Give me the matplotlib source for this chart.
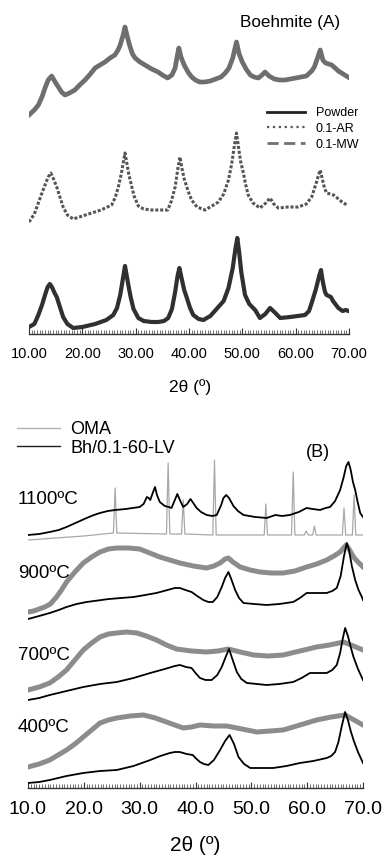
import numpy as np
import matplotlib
matplotlib.use('Agg')
import matplotlib.pyplot as plt
from matplotlib.lines import Line2D

plt.rcParams['font.family'] = ['Liberation Sans', 'DejaVu Sans']

W, H = 383, 855

def fx(x):
	return x / W

def fy(y):
	return 1 - y / H

# ---------------- (A) boehmite, stacked patterns (a.u.) ----------------
tt_mw = [10.0, 11.0, 11.75, 12.5, 13.0, 13.6, 14.25, 14.9, 15.5, 16.1, 16.75, 17.6, 18.6, 19.5,
	20.5, 21.5, 22.4, 23.3, 24.25, 25.2, 26.1, 26.7, 27.1, 27.6, 28.0, 28.4, 28.9, 29.4,
	29.9, 30.8, 31.75, 33.0, 34.2, 35.0, 36.0, 36.8, 37.4, 37.8, 38.1, 38.5, 39.1, 39.8,
	40.5, 41.2, 42.0, 43.0, 44.0, 45.0, 46.0, 46.8, 47.5, 48.2, 48.9, 49.4, 50.0, 50.7,
	51.5, 52.2, 53.0, 53.7, 54.25, 55.0, 56.0, 57.0, 58.0, 59.0, 60.0, 61.0, 62.0, 63.0,
	63.5, 64.1, 64.6, 65.1, 65.6, 66.2, 66.75, 67.4, 68.0, 68.9, 69.8]
i_mw = [219, 224, 229, 238, 246, 254, 258, 252, 247, 242, 239, 241, 244, 249,
	254, 260, 266, 269, 272, 276, 279, 284, 289, 298, 307, 298, 288, 280,
	276, 272, 269, 265, 262, 259, 256, 259, 266, 278, 286, 277, 269, 262,
	257, 254, 252, 252, 253, 255, 257, 261, 266, 276, 292, 280, 272, 265,
	259, 257, 256, 259, 262, 258, 255, 254, 254, 255, 256, 257, 258, 263,
	267, 276, 284, 274, 271, 270, 269, 266, 263, 260, 257]

tt_ar = [10.0, 11.0, 11.75, 12.5, 13.0, 13.6, 14.1, 14.6, 15.2, 15.8, 16.4, 17.2, 18.3, 20.0,
	21.75, 23.5, 25.5, 26.2, 26.75, 27.3, 27.7, 28.0, 28.3, 28.7, 29.1, 29.7, 30.5, 31.5,
	33.0, 35.0, 36.0, 36.7, 37.4, 37.9, 38.3, 38.7, 39.1, 39.6, 40.1, 40.5, 41.5, 43.0,
	44.3, 45.5, 46.5, 47.4, 48.0, 48.5, 48.9, 49.3, 49.7, 50.2, 50.6, 51.1, 52.0, 53.3,
	54.4, 55.2, 55.9, 56.75, 58.5, 60.5, 62.0, 63.0, 63.8, 64.3, 64.6, 65.0, 65.4, 65.8,
	66.5, 67.1, 67.8, 68.7, 69.6]
i_ar = [112, 120, 131, 142, 149, 157, 161, 155, 147, 137, 127, 119, 115, 118,
	121, 124, 129, 137, 147, 160, 172, 181, 172, 160, 151, 138, 128, 125,
	124, 124, 124, 133, 147, 165, 177, 165, 155, 147, 139, 134, 127, 124,
	128, 132, 140, 154, 170, 188, 201, 186, 172, 161, 150, 139, 131, 126,
	131, 136, 130, 126, 127, 127, 130, 137, 150, 159, 164, 155, 146, 141,
	140, 139, 136, 132, 129]

tt_pw = [10.0, 11.0, 11.75, 12.5, 13.0, 13.5, 13.9, 14.3, 14.8, 15.2, 15.8, 16.4, 17.2, 18.3,
	20.0, 22.4, 24.5, 25.8, 26.5, 27.1, 27.6, 28.0, 28.4, 28.8, 29.1, 29.6, 30.5, 31.5,
	33.0, 34.25, 35.3, 36.1, 36.8, 37.4, 37.85, 38.2, 38.6, 39.1, 39.6, 40.2, 40.8, 41.8,
	42.7, 44.0, 45.0, 45.5, 46.5, 47.4, 48.2, 48.7, 49.06, 49.4, 49.8, 50.5, 51.3, 52.4,
	53.3, 54.3, 55.2, 56.0, 57.1, 59.0, 61.75, 62.5, 63.0, 63.8, 64.4, 64.75, 65.1, 65.5,
	65.8, 66.2, 66.6, 67.0, 68.0, 68.8, 69.4, 69.9]
i_pw = [7, 10, 19, 30, 39, 47, 50, 47, 41, 37, 27, 17, 10, 6,
	7, 10, 14, 19, 26, 39, 55, 68, 56, 44, 36, 25, 16, 13,
	12, 12, 13, 16, 25, 42, 58, 66, 56, 44, 36, 26, 19, 15,
	14, 18, 24, 27, 33, 46, 66, 85, 96, 82, 62, 39, 30, 24,
	16, 20, 26, 22, 16, 17, 19, 23, 31, 45, 58, 64, 52, 42,
	39, 38, 37, 33, 26, 23, 24, 23]

# ---------------- (B) calcined samples (a.u.) ----------------
tt_oma1100 = [10.05, 15.0, 20.0, 25.3, 25.6, 25.9, 34.8, 35.1, 35.4, 37.5, 37.8, 38.1, 43.1, 43.4,
	43.7, 52.3, 52.6, 52.9, 57.2, 57.5, 57.8, 59.5, 59.8, 60.2, 61.0, 61.3, 61.6, 66.3,
	66.6, 66.9, 68.1, 68.4, 68.7, 70.0]
i_oma1100 = [248, 250, 252, 255, 300, 255, 254, 325, 254, 254, 288, 254, 253, 328,
	253, 253, 284, 253, 253, 316, 253, 253, 257, 253, 253, 262, 253, 253,
	280, 253, 253, 293, 253, 253]

tt_bh1100 = [10.0, 12.0, 13.9, 15.5, 16.9, 18.5, 20.5, 21.8, 22.9, 24.3, 25.6, 27.5, 30.0, 30.7,
	31.3, 31.6, 31.9, 32.4, 32.75, 33.1, 33.6, 34.5, 35.2, 35.7, 36.3, 36.75, 37.2, 37.8,
	38.5, 39.1, 39.6, 40.2, 41.0, 42.0, 43.0, 43.8, 44.6, 45.0, 45.5, 46.0, 46.8, 47.6,
	48.6, 50.7, 52.75, 54.3, 55.5, 56.9, 58.5, 59.9, 61.0, 62.3, 63.3, 64.1, 65.0, 65.9,
	66.5, 67.0, 67.4, 67.8, 68.2, 68.6, 69.0, 69.5, 70.0]
i_bh1100 = [253, 254, 256, 258, 261, 265, 270, 273, 275, 277, 278, 279, 281, 284,
	291, 290, 288, 296, 301, 293, 286, 282, 281, 280, 288, 294, 288, 281,
	284, 289, 285, 280, 276, 273, 272, 273, 283, 290, 293, 290, 282, 277,
	273, 271, 270, 273, 272, 273, 276, 280, 279, 278, 280, 281, 287, 298,
	310, 322, 326, 318, 306, 298, 287, 275, 271]

tt_oma900 = [10.0, 11.0, 12.0, 13.0, 14.0, 15.1, 16.0, 16.9, 18.4, 19.9, 21.4, 22.9, 24.4, 25.9,
	28.0, 30.0, 31.8, 33.6, 35.4, 37.2, 39.6, 42.0, 43.3, 44.4, 45.3, 45.9, 46.7, 48.0,
	49.8, 51.55, 53.6, 55.7, 57.8, 59.9, 61.7, 63.5, 64.8, 65.9, 66.5, 67.0, 67.6, 68.3,
	69.1, 70.0]
i_oma900 = [176, 177, 179, 181, 184, 191, 198, 206, 216, 225, 231, 236, 239, 240,
	240, 239, 235, 231, 228, 225, 222, 220, 222, 225, 229, 230, 226, 221,
	218, 216, 215, 215, 217, 221, 224, 228, 232, 236, 240, 243, 238, 231,
	226, 221]

tt_bh900 = [10.0, 12.0, 13.9, 15.5, 16.9, 18.7, 20.5, 24.5, 28.9, 31.0, 33.0, 35.0, 36.3, 37.2,
	38.2, 39.3, 40.3, 41.4, 42.3, 43.1, 43.9, 44.7, 45.3, 45.9, 46.4, 47.1, 47.8, 48.6,
	50.5, 52.75, 55.0, 57.5, 58.7, 59.9, 61.5, 63.5, 64.5, 65.3, 66.0, 66.6, 67.1, 67.5,
	68.0, 68.6, 69.2, 69.8, 70.0]
i_bh900 = [169, 172, 175, 178, 181, 184, 186, 189, 191, 193, 195, 198, 200, 200,
	198, 196, 192, 188, 186, 186, 191, 201, 210, 216, 209, 198, 190, 185,
	184, 183, 184, 186, 190, 195, 195, 195, 197, 200, 212, 232, 245, 238,
	222, 208, 198, 191, 188]

tt_oma700 = [10.0, 12.0, 13.9, 15.4, 16.9, 18.4, 19.9, 21.4, 22.9, 24.4, 25.9, 27.7, 29.5, 31.2,
	33.0, 34.8, 36.6, 39.3, 42.0, 44.0, 45.9, 48.0, 50.4, 53.0, 55.7, 58.7, 61.7, 64.0,
	66.5, 68.3, 70.0]
i_oma700 = [98, 101, 105, 111, 118, 128, 138, 145, 151, 154, 155, 156, 155, 152,
	148, 143, 139, 137, 136, 137, 139, 136, 133, 132, 133, 137, 141, 143,
	146, 142, 138]

tt_bh700 = [10.0, 12.0, 13.9, 16.9, 19.9, 22.9, 25.9, 28.9, 31.9, 34.5, 36.3, 37.2, 38.3, 39.3,
	40.0, 40.8, 41.8, 42.9, 43.9, 44.7, 45.4, 46.0, 46.6, 47.4, 48.2, 49.2, 51.0, 52.75,
	55.0, 57.5, 59.0, 60.5, 62.0, 63.5, 64.5, 65.3, 65.9, 66.4, 66.8, 67.3, 67.8, 68.3,
	69.1, 70.0]
i_bh700 = [88, 90, 93, 97, 101, 104, 106, 110, 115, 119, 122, 123, 121, 120,
	115, 110, 108, 108, 113, 121, 131, 139, 129, 116, 109, 105, 104, 103,
	104, 106, 110, 115, 115, 115, 118, 123, 135, 150, 160, 152, 141, 131,
	119, 108]

tt_oma400 = [10.0, 12.0, 13.9, 15.4, 16.9, 18.4, 19.9, 21.4, 22.9, 24.4, 25.9, 28.3, 30.7, 32.8,
	34.8, 36.3, 37.8, 39.3, 40.8, 43.2, 45.6, 48.3, 51.0, 53.4, 55.7, 58.7, 61.7, 64.3,
	66.8, 68.4, 70.0]
i_oma400 = [21, 24, 28, 33, 38, 44, 51, 58, 65, 68, 70, 72, 73, 70,
	66, 63, 60, 61, 63, 62, 62, 59, 56, 57, 58, 63, 68, 71,
	73, 68, 63]

tt_bh400 = [10.0, 12.0, 13.9, 16.9, 19.9, 22.9, 25.9, 28.9, 31.9, 33.7, 35.4, 36.3, 37.2, 38.4,
	39.5, 40.2, 40.8, 41.5, 42.3, 43.3, 44.4, 45.3, 46.1, 46.9, 47.7, 48.7, 49.8, 51.8,
	53.9, 56.3, 58.7, 61.1, 63.5, 64.3, 65.0, 65.6, 66.2, 66.8, 67.3, 67.8, 68.3, 69.1,
	70.0]
i_bh400 = [5, 6, 8, 12, 15, 17, 18, 22, 28, 32, 35, 36, 36, 34,
	33, 29, 26, 24, 23, 28, 38, 47, 53, 44, 31, 24, 20, 20,
	20, 22, 25, 27, 30, 32, 36, 46, 62, 76, 68, 57, 48, 36,
	25]

temps = ['1100ºC', '900ºC', '700ºC', '400ºC']
temp_y = [499, 573, 655, 727]

fig = plt.figure(figsize=(W / 100, H / 100), dpi=100)

def style_axis(ax, fmt, size, pad):
	for s in ['left', 'right', 'top']:
		ax.spines[s].set_visible(False)
	ax.spines['bottom'].set_color('#333333')
	ax.spines['bottom'].set_linewidth(1.0)
	ax.set_yticks([])
	ax.set_xlim(10, 70)
	ax.set_xticks(np.arange(10, 71, 10))
	ax.set_xticks(np.arange(10, 70.01, 0.5), minor=True)
	ax.xaxis.set_major_formatter(plt.FormatStrFormatter(fmt))
	ax.tick_params(axis='x', which='major', direction='in', length=4, width=0.8,
		color='#333333', labelsize=size, pad=pad)
	ax.tick_params(axis='x', which='minor', direction='in', length=3, width=0.6, color='#555555')
	ax.patch.set_alpha(0)

# top panel
axA = fig.add_axes([fx(29), fy(334), 320 / W, 334 / H])
style_axis(axA, '%.2f', 10.5, 9)
axA.set_ylim(0, 334)
axA.plot(tt_mw, i_mw, color='#6e6e6e', lw=3.4, solid_joinstyle='round')
axA.plot(tt_ar, i_ar, color='#555555', lw=2.2, ls=(0, (1, 0.6)))
axA.plot(tt_pw, i_pw, color='#303030', lw=3.0, solid_joinstyle='round')

fig.text(fx(290), fy(23), 'Boehmite (A)', fontsize=12.3, ha='center', va='center')
fig.text(fx(190), fy(387), '2θ (º)', fontsize=12.5, ha='center', va='center')

hA = [Line2D([], [], color='#202020', lw=2.0),
	Line2D([], [], color='#555555', lw=1.6, ls=':'),
	Line2D([], [], color='#707070', lw=2.0, ls=(0, (4, 2)))]
fig.legend(hA, ['Powder', '0.1-AR', '0.1-MW'], loc='upper left',
	bbox_to_anchor=(fx(267), fy(107)), frameon=False, fontsize=9,
	handlelength=3.0, handletextpad=0.9, labelspacing=0.3, borderpad=0, borderaxespad=0)

# bottom panel
axB = fig.add_axes([fx(28), fy(788), 335 / W, 348 / H])
style_axis(axB, '%.1f', 14, 9)
axB.set_ylim(0, 348)
axB.plot(tt_oma1100, i_oma1100, color='#a8a8a8', lw=0.9)
axB.plot(tt_bh1100, i_bh1100, color='black', lw=1.3)
for tt, ii in [(tt_oma900, i_oma900), (tt_oma700, i_oma700), (tt_oma400, i_oma400)]:
	axB.plot(tt, ii, color='#8c8c8c', lw=3.6)
for tt, ii in [(tt_bh900, i_bh900), (tt_bh700, i_bh700), (tt_bh400, i_bh400)]:
	axB.plot(tt, ii, color='black', lw=1.3)

for t, y in zip(temps, temp_y):
	fig.text(fx(18), fy(y), t, fontsize=13.5, ha='left', va='center')

fig.text(fx(318), fy(452), '(B)', fontsize=13, ha='center', va='center')
fig.text(fx(195), fy(845), '2θ (º)', fontsize=15, ha='center', va='center')

hB = [Line2D([], [], color='#b0b0b0', lw=1.0), Line2D([], [], color='#202020', lw=1.0)]
fig.legend(hB, ['OMA', 'Bh/0.1-60-LV'], loc='upper left',
	bbox_to_anchor=(fx(17), fy(421)), frameon=False, fontsize=13,
	handlelength=2.4, handletextpad=0.55, labelspacing=0.1, borderpad=0, borderaxespad=0)

fig.savefig('out.png', dpi=100)
